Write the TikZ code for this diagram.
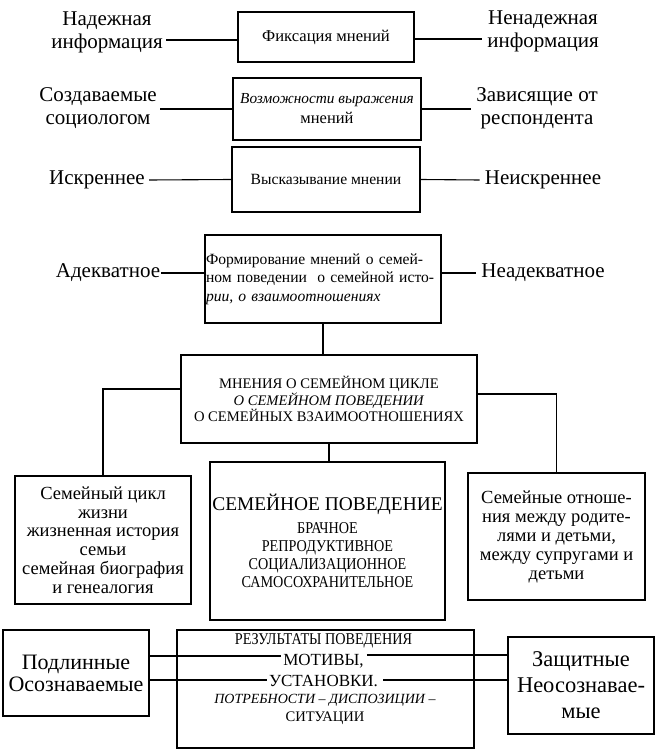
\documentclass[tikz,border=0pt]{standalone}
\usepackage{fontspec}
\setmainfont{Liberation Serif}
\newfontfamily\condfnt[FakeStretch=0.86]{Liberation Serif}
\newcommand\titlefnt{\fontsize{19.4}{18}\selectfont}
\begin{document}
\begin{tikzpicture}[x=1pt,y=-1pt,
  box/.style={draw,line width=1.1pt,inner sep=0pt,align=center},
  lab/.style={inner sep=0pt,align=center,font=\fontsize{21}{23}\selectfont},
  conn/.style={line width=1.1pt},
  txt/.style={inner sep=0pt}]
\useasboundingbox (0,0) rectangle (655,751);

% row 1
\node[box,font=\fontsize{16.6}{20}\selectfont,minimum width=176,minimum height=50] (b1) at (326,37) {Фиксация мнений};
\node[lab] (l1a) at (107,32) {Надежная\\информация};
\node[lab] (l1b) at (543,31) {Ненадежная\\информация};
\draw[conn] ([yshift=-3pt]b1.west) -- ([xshift=3pt,yshift=-8pt]l1a.east);
\draw[conn] ([yshift=-2pt]b1.east) -- ([xshift=-5pt,yshift=-8pt]l1b.west);

% row 2
\node[box,font=\fontsize{15.3}{20}\selectfont,minimum width=188,minimum height=62] (b2) at (327,109)
  {\textit{Возможности выражения}\\\fontsize{16.5}{20}\selectfont мнений};
\node[lab] (l2a) at (98,108) {Создаваемые\\социологом};
\node[lab] (l2b) at (537,108) {Зависящие от\\респондента};
\draw[conn] (b2.west) -- ([xshift=3pt,yshift=-1pt]l2a.east);
\draw[conn] (b2.east) -- ([xshift=-5pt,yshift=-1pt]l2b.west);

% row 3
\node[box,font=\fontsize{15.6}{20}\selectfont,minimum width=188,minimum height=65] (b3) at (326,179.5) {Высказывание мнении};
\node[lab] (l3a) at (97,180) {Искреннее};
\node[lab] (l3b) at (543,180) {Неискреннее};
\draw[conn] (b3.west) -- ([xshift=4pt]l3a.east);
\draw[conn] (b3.east) -- ([xshift=-5pt]l3b.west);

% row 4
\node[box,font=\fontsize{15.6}{18.5}\selectfont,align=left,text width=234,inner xsep=1pt,minimum height=88] (b4) at (323,279)
  {Формирование мнений о семей-\\ном поведении\ \ о семейной исто-\\\textit{рии, о взаимоотношениях}};
\node[lab] (l4a) at (108,273) {Адекватное};
\node[lab] (l4b) at (543,273) {Неадекватное};
\draw[conn] ([yshift=6pt]b4.west) -- ([xshift=1pt]l4a.east);
\draw[conn] ([yshift=6pt]b4.east) -- ([xshift=-5pt]l4b.west);

% row 5
\node[box,font=\fontsize{14.6}{15}\selectfont,minimum width=296,minimum height=88] (b5) at (329,399)
  {МНЕНИЯ О СЕМЕЙНОМ ЦИКЛЕ\\\textit{О СЕМЕЙНОМ ПОВЕДЕНИИ}\\О СЕМЕЙНЫХ ВЗАИМООТНОШЕНИЯХ};
\draw[conn] (b4.south) -- (b4.south |- b5.north);

% row 6
\node[box,font=\fontsize{18.5}{18.8}\selectfont,minimum width=176,minimum height=128] (b6) at (103,540)
  {Семейный цикл\\жизни\\жизненная история\\семьи\\семейная биография\\и генеалогия};
\node[box,font=\condfnt\fontsize{16.5}{18}\selectfont,minimum width=235,minimum height=158] (b7) at (327.5,541)
  {\rmfamily\titlefnt СЕМЕЙНОЕ ПОВЕДЕНИЕ\\[5pt]БРАЧНОЕ\\РЕПРОДУКТИВНОЕ\\СОЦИАЛИЗАЦИОННОЕ\\САМОСОХРАНИТЕЛЬНОЕ};
\node[box,font=\fontsize{18.5}{19}\selectfont,minimum width=177,minimum height=127] (b8) at (556.5,536.5)
  {Семейные отноше-\\ния между родите-\\лями и детьми,\\между супругами и\\детьми};
\draw[conn] ([yshift=10pt]b5.west) -| (b6.north);
\draw[conn] ([yshift=5pt]b5.east) -| (b8.north);
\draw[conn] (b5.south) -- (b5.south |- b7.north);

% row 7
\node[box,font=\fontsize{22}{22}\selectfont,minimum width=146,minimum height=86] (b9) at (76,673) {Подлинные\\Осознаваемые};
\node[box,minimum width=297,minimum height=118] (b10) at (325.5,689) {};
\node[box,font=\fontsize{22.5}{26}\selectfont,minimum width=146,minimum height=97] (b11) at (581,685.5) {Защитные\\Неосознавае-\\мые};
\node[txt,font=\condfnt\fontsize{16.5}{16}\selectfont] (t1) at (323.5,641) {РЕЗУЛЬТАТЫ ПОВЕДЕНИЯ};
\node[txt,font=\fontsize{17}{18}\selectfont] (t2) at (323.5,661) {МОТИВЫ,};
\node[txt,font=\fontsize{17}{18}\selectfont] (t3) at (323.5,681) {УСТАНОВКИ.};
\node[txt,font=\fontsize{14}{16}\selectfont] (t4) at (325,700) {\textit{ПОТРЕБНОСТИ – ДИСПОЗИЦИИ –}};
\node[txt,font=\fontsize{14.6}{16}\selectfont] (t5) at (325,718) {СИТУАЦИИ};
\draw[conn] ([yshift=5pt]b9.east |- t2.west) -- ([xshift=-2pt,yshift=5pt]t2.west);
\draw[conn] ([xshift=3pt,yshift=6pt]t2.east) -- ([yshift=6pt]t2.east -| b11.west);
\draw[conn] ([yshift=1pt]b9.east |- t3.west) -- ([xshift=-2pt,yshift=1pt]t3.west);
\draw[conn] ([xshift=5pt,yshift=1pt]t3.east) -- ([yshift=1pt]t3.east -| b11.west);
\end{tikzpicture}
\end{document}
